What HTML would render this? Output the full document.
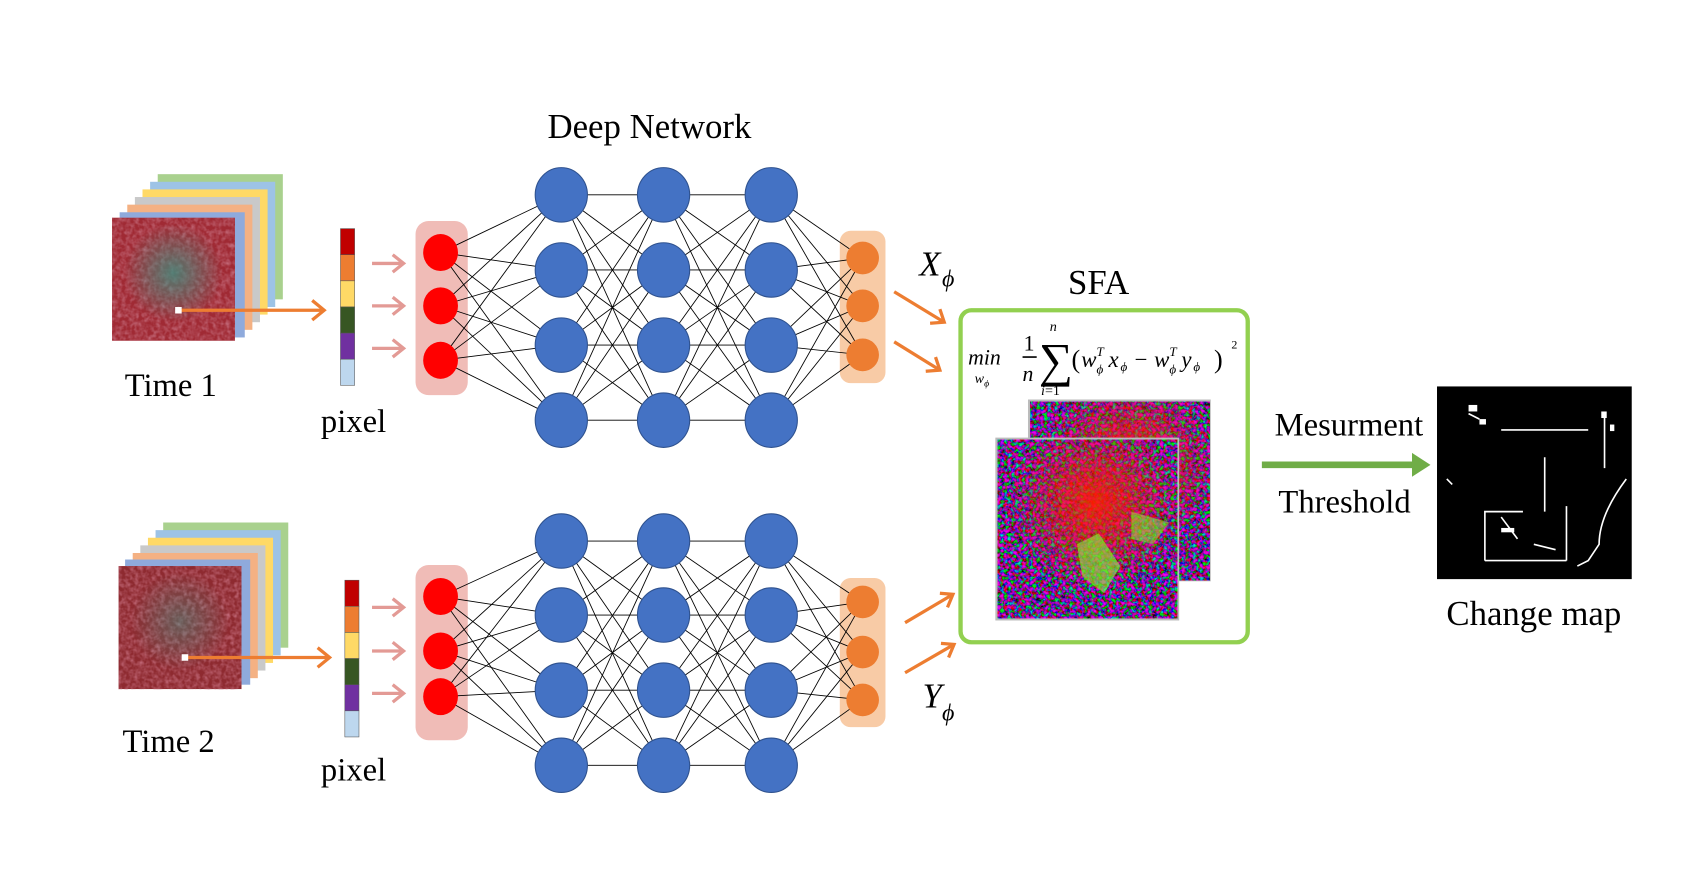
<!DOCTYPE html>
<html><head><meta charset="utf-8"><style>
html,body{margin:0;padding:0;background:#fff;overflow:hidden}
svg{display:block}
text{font-family:"Liberation Serif",serif;fill:#000}
</style></head><body>
<svg id="s" width="1697" height="885" viewBox="0 0 1560 813" preserveAspectRatio="none" xmlns="http://www.w3.org/2000/svg">
<defs>
<filter id="sat" x="0" y="0" width="1" height="1">
<feTurbulence type="fractalNoise" baseFrequency="0.25" numOctaves="2" seed="3"/>
<feColorMatrix type="matrix" values="0 0 0 0 0.55  0 0 0 0 0.15  0 0 0 0 0.2  1.4 -0.8 0 0 -0.05"/>
</filter>
<filter id="sfa" x="0" y="0" width="1" height="1">
<feTurbulence type="fractalNoise" baseFrequency="0.3" numOctaves="2" seed="7"/>
<feColorMatrix type="matrix" values="3 -2 0 0 -0.3  -2 3 0 0 -0.6  0 -1.5 2.5 0 -0.2  0 0 0 0 0.9"/>
</filter>
<radialGradient id="rc" cx="0.55" cy="0.35" r="0.5"><stop offset="0" stop-color="#ff2000" stop-opacity="0.9"/><stop offset="1" stop-color="#ff2000" stop-opacity="0"/></radialGradient>
<radialGradient id="tc" cx="0.5" cy="0.45" r="0.4"><stop offset="0" stop-color="#3f8f80" stop-opacity="0.8"/><stop offset="1" stop-color="#3f8f80" stop-opacity="0"/></radialGradient>
</defs>
<text x="597" y="127" font-size="32" text-anchor="middle">Deep Network</text>
<g id="net"></g>
<g>
<rect x="145" y="160" width="115" height="115" fill="#a9d18e"/>
<rect x="138" y="167" width="115" height="115" fill="#9dc3e6"/>
<rect x="131" y="174" width="115" height="115" fill="#ffd966"/>
<rect x="124" y="181" width="115" height="115" fill="#c9c9c9"/>
<rect x="117" y="188" width="115" height="115" fill="#f4b183"/>
<rect x="110" y="195" width="115" height="115" fill="#8faadc"/>
<rect x="103" y="200" width="113" height="113" fill="#a02a34"/>
<rect x="103" y="200" width="113" height="113" filter="url(#sat)"/>
<rect x="103" y="200" width="113" height="113" fill="url(#tc)"/>
</g>
<g>
<rect x="150" y="480" width="115" height="115" fill="#a9d18e"/>
<rect x="143" y="487" width="115" height="115" fill="#9dc3e6"/>
<rect x="136" y="494" width="115" height="115" fill="#ffd966"/>
<rect x="129" y="501" width="115" height="115" fill="#c9c9c9"/>
<rect x="122" y="508" width="115" height="115" fill="#f4b183"/>
<rect x="115" y="514" width="115" height="115" fill="#8faadc"/>
<rect x="109" y="520" width="113" height="113" fill="#8e2a30"/>
<rect x="109" y="520" width="113" height="113" filter="url(#sat)"/>
<rect x="109" y="520" width="113" height="113" fill="url(#tc)" opacity="0.6"/>
</g>
<g stroke="#ed7d31" stroke-width="3" fill="none">
<line x1="165" y1="285" x2="296" y2="285"/><path d="M287,276 L298,285 L287,294"/>
<line x1="170" y1="604" x2="301" y2="604"/><path d="M292,595 L303,604 L292,613"/>
</g>
<rect x="161" y="282" width="6" height="6" fill="#fff"/>
<rect x="167" y="601" width="6" height="6" fill="#fff"/>
<g id="bars"></g>
<text x="157" y="364" font-size="30" text-anchor="middle">Time 1</text>
<text x="325" y="397" font-size="30" text-anchor="middle">pixel</text>
<text x="155" y="691" font-size="30" text-anchor="middle">Time 2</text>
<text x="325" y="717" font-size="30" text-anchor="middle">pixel</text>
<g stroke="#ed7d31" stroke-width="3" fill="none">
<line x1="822" y1="268" x2="868" y2="296"/><path d="M855,297 L868,296 L864,284"/>
<line x1="822" y1="314" x2="864" y2="340"/><path d="M851,341 L864,340 L860,328"/>
<line x1="832" y1="572" x2="876" y2="546"/><path d="M864,545 L876,546 L871,558"/>
<line x1="832" y1="618" x2="877" y2="592"/><path d="M865,591 L877,592 L872,604"/>
</g>
<text x="845" y="253" font-size="32" font-style="italic">X</text><text x="866" y="263" font-size="22" font-style="italic">ϕ</text>
<text x="848" y="650" font-size="32" font-style="italic">Y</text><text x="866" y="662" font-size="22" font-style="italic">ϕ</text>
<text x="1010" y="270" font-size="32" text-anchor="middle">SFA</text>
<rect x="883" y="285" width="264" height="305" rx="10" fill="#fff" stroke="#92d050" stroke-width="4"/>
<g font-style="italic" font-size="20">
<text x="890" y="335">min</text>
<text x="896" y="352" font-size="13">w<tspan font-size="9" dy="3">ϕ</tspan></text>
<text x="941" y="322" font-style="normal">1</text>
<line x1="940" y1="328" x2="953" y2="328" stroke="#000" stroke-width="1.5"/>
<text x="940" y="350">n</text>
<text x="955" y="346" font-size="44" font-style="normal">∑</text>
<text x="965" y="304" font-size="13">n</text>
<text x="957" y="363" font-size="13">i<tspan font-style="normal">=1</tspan></text>
<text x="985" y="338" font-style="normal" font-size="24">(</text>
<text x="994" y="337" font-size="21">w</text><text x="1008" y="327" font-size="12">T</text><text x="1008" y="343" font-size="12">ϕ</text>
<text x="1019" y="337" font-size="21">x</text><text x="1030" y="341" font-size="12">ϕ</text>
<text x="1043" y="337" font-style="normal" font-size="21">−</text>
<text x="1061" y="337" font-size="21">w</text><text x="1075" y="327" font-size="12">T</text><text x="1075" y="343" font-size="12">ϕ</text>
<text x="1086" y="337" font-size="21">y</text><text x="1097" y="341" font-size="12">ϕ</text>
<text x="1116" y="338" font-style="normal" font-size="24">)</text>
<text x="1132" y="320" font-style="normal" font-size="11">2</text>
</g>
<rect x="945" y="367" width="168" height="167" fill="#bbb"/>
<rect x="947" y="369" width="165" height="164" fill="#22186a"/>
<rect x="947" y="369" width="165" height="164" filter="url(#sfa)"/>
<rect x="947" y="369" width="165" height="164" fill="url(#rc)"/>
<rect x="915" y="402" width="169" height="168" fill="#bbb"/>
<rect x="917" y="404" width="165" height="164" fill="#22186a"/>
<rect x="917" y="404" width="165" height="164" filter="url(#sfa)"/>
<rect x="917" y="404" width="165" height="164" fill="url(#rc)"/>
<path d="M990,500 L1010,490 L1030,520 L1015,545 L995,530 Z" fill="#7fff30" opacity="0.6"/>
<path d="M1040,470 L1075,480 L1060,500 L1040,495Z" fill="#7fff30" opacity="0.5"/>
<line x1="1160" y1="427" x2="1300" y2="427" stroke="#70ad47" stroke-width="6"/>
<path d="M1298,416 L1315,427 L1298,438Z" fill="#70ad47"/>
<text x="1240" y="400" font-size="30" text-anchor="middle">Mesurment</text>
<text x="1236" y="471" font-size="30" text-anchor="middle">Threshold</text>
<rect x="1321" y="355" width="179" height="177" fill="#000"/>
<g stroke="#fff" stroke-width="1.5" fill="none">
<path d="M1365,515 L1365,470 L1400,470 M1365,515 L1440,515 M1440,515 L1440,465 M1420,470 L1420,420 M1380,395 L1460,395 M1475,380 L1475,430 M1495,440 C1480,460 1470,480 1470,500 L1460,515 L1450,520"/>
<path d="M1380,475 L1395,495 M1410,500 L1430,505 M1330,440 L1335,445 M1350,380 L1360,385"/>
</g>
<g fill="#fff"><rect x="1350" y="372" width="8" height="6"/><rect x="1360" y="385" width="6" height="5"/><rect x="1472" y="378" width="5" height="6"/><rect x="1380" y="485" width="12" height="4"/><rect x="1480" y="390" width="4" height="6"/></g>
<text x="1410" y="574" font-size="32" text-anchor="middle">Change map</text>
<script>
var ns="http://www.w3.org/2000/svg",g=document.getElementById('net'),b=document.getElementById('bars');
function el(p,t,a){var e=document.createElementNS(ns,t);for(var k in a)e.setAttribute(k,a[k]);p.appendChild(e);return e;}
function net(cfg){
 var L=[cfg.inp.map(function(y){return[405,y]}),cfg.h.map(function(y){return[516,y]}),cfg.h.map(function(y){return[610,y]}),cfg.h.map(function(y){return[709,y]}),cfg.out.map(function(y){return[793,y]})];
 el(g,'rect',{x:382,y:cfg.ib[0],width:48,height:cfg.ib[1]-cfg.ib[0],rx:12,fill:'#f0bcb7'});
 el(g,'rect',{x:772,y:cfg.ob[0],width:42,height:cfg.ob[1]-cfg.ob[0],rx:10,fill:'#f8cba6'});
 for(var i=0;i<4;i++)L[i].forEach(function(a){L[i+1].forEach(function(c){el(g,'line',{x1:a[0],y1:a[1],x2:c[0],y2:c[1],stroke:'#000','stroke-width':0.8});});});
 L[0].forEach(function(p){el(g,'ellipse',{cx:p[0],cy:p[1],rx:16,ry:17,fill:'#ff0000'});});
 [1,2,3].forEach(function(i){L[i].forEach(function(p){el(g,'ellipse',{cx:p[0],cy:p[1],rx:24,ry:25,fill:'#4472c4',stroke:'#2f528f','stroke-width':1});});});
 L[4].forEach(function(p){el(g,'circle',{cx:p[0],cy:p[1],r:15,fill:'#ed7d31'});});
 cfg.pa.forEach(function(y){el(g,'path',{d:'M342,'+y+' L370,'+y+' M361,'+(y-8)+' L371,'+y+' L361,'+(y+8),stroke:'#e39a95','stroke-width':3,fill:'none'});});
 var cols=['#c00000','#ed7d31','#ffd966','#375623','#7030a0','#bdd7ee'];
 cols.forEach(function(c,i){el(b,'rect',{x:cfg.bx,y:cfg.by+i*24,width:13,height:24,fill:c,stroke:'#555','stroke-width':0.5});});
}
net({inp:[232,281,331],h:[179,248,317,386],out:[237,281,326],ib:[203,363],ob:[212,352],pa:[242,281,320],bx:313,by:210});
net({inp:[548,598,640],h:[497,565,634,703],out:[553,599,643],ib:[519,680],ob:[531,668],pa:[558,598,637],bx:317,by:533});
</script>
</svg>
</body></html>
